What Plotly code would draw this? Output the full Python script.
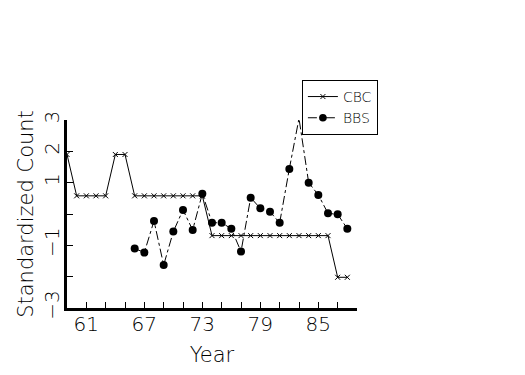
import plotly.graph_objects as go

years_cbc = [59, 60, 61, 62, 63, 64, 65, 66, 67, 68, 69, 70, 71, 72, 73,
             74, 75, 76, 77, 78, 79, 80, 81, 82, 83, 84, 85, 86, 87, 88]
cbc = [1.9, 0.58, 0.58, 0.58, 0.58, 1.9, 1.9, 0.58, 0.58, 0.58, 0.58, 0.58, 0.58, 0.58, 0.58,
       -0.69, -0.69, -0.69, -0.69, -0.69, -0.69, -0.69, -0.69, -0.69, -0.69, -0.69, -0.69, -0.69,
       -2.02, -2.02]

years_bbs = [66, 67, 68, 69, 70, 71, 72, 73, 74, 75, 76, 77, 78, 79, 80, 81, 82, 83, 84, 85, 86, 87, 88]
bbs = [-1.10, -1.23, -0.22, -1.63, -0.56, 0.13, -0.51, 0.65, -0.28, -0.28, -0.47, -1.20,
       0.52, 0.18, 0.07, -0.28, 1.44, 3.05, 1.0, 0.61, 0.02, -0.01, -0.47]

x_tickvals = [59, 61, 63, 65, 67, 69, 71, 73, 75, 77, 79, 81, 83, 85, 87, 89]
x_ticktext = ["", "61", "", "", "67", "", "", "73", "", "", "79", "", "", "85", "", ""]
y_tickvals = [-3, -2, -1, 0, 1, 2, 3]
y_ticktext = ["\u22123", "", "\u22121", "", "1", "2", "3"]

Y_MIN, Y_MAX = -3, 3
FONT = "DejaVu Sans"

# points beyond the axis range are not drawn as markers (as in the original)
bbs_sizes = [0 if (v > Y_MAX or v < Y_MIN) else 8 for v in bbs]

fig = go.Figure()
fig.add_trace(go.Scatter(
    x=years_cbc, y=cbc, name="CBC", mode="lines+markers",
    line=dict(color="black", width=1),
    marker=dict(symbol="x-thin-open", size=5, color="black", line=dict(color="black", width=1)),
))
fig.add_trace(go.Scatter(
    x=years_bbs, y=bbs, name="BBS", mode="lines+markers",
    line=dict(color="black", width=1, dash="dashdot"),
    marker=dict(symbol="circle", size=bbs_sizes, color="black", opacity=1,
                line=dict(width=0)),
))

fig.update_layout(
    width=509, height=359,
    margin=dict(l=59, r=160, t=112, b=59, autoexpand=False),
    paper_bgcolor="white", plot_bgcolor="white",
    font=dict(family=FONT, color="black", size=20, weight=200),
    showlegend=True,
    legend=dict(
        x=0.81, y=1.213, xanchor="left", yanchor="top",
        bgcolor="white", bordercolor="black", borderwidth=1,
        font=dict(family=FONT, size=14, color="black", weight=200),
        tracegroupgap=0, itemwidth=30,
    ),
)
fig.update_xaxes(
    range=[59, 89], showgrid=False, zeroline=False, automargin=False,
    showline=True, linecolor="black", linewidth=3,
    ticks="inside", ticklen=6, tickwidth=1, tickcolor="black",
    tickvals=x_tickvals, ticktext=x_ticktext, ticklabelstandoff=-4,
    tickfont=dict(size=20, family=FONT, weight=200),
    title=dict(text="Year", font=dict(size=21, family=FONT, weight=200), standoff=14),
)
fig.update_yaxes(
    range=[Y_MIN, Y_MAX], showgrid=False, zeroline=False, automargin=False,
    showline=True, linecolor="black", linewidth=3,
    ticks="inside", ticklen=6, tickwidth=1, tickcolor="black",
    tickvals=y_tickvals, ticktext=y_ticktext, tickangle=-90, ticklabelstandoff=-3,
    tickfont=dict(size=20, family=FONT, weight=200),
    title=dict(text="Standardized Count", font=dict(size=21, family=FONT, weight=200), standoff=1),
)

fig.write_html("out.html")
